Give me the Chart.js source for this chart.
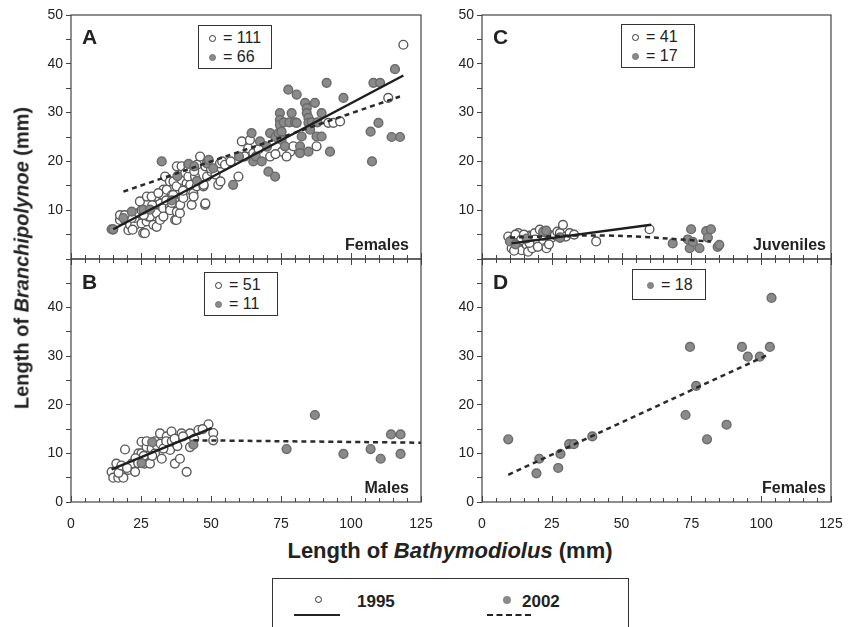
<!DOCTYPE html>
<html>
<head>
<meta charset="utf-8">
<script src="https://cdn.jsdelivr.net/npm/chart.js@4.4.1/dist/chart.umd.min.js"></script>
<style>
  body { margin: 0; background: #fff; }
  #wrap { position: relative; width: 851px; height: 627px; overflow: hidden; background: #fff;
          font-family: 'Liberation Sans', Arial, sans-serif; color: #222; }
  canvas { position: absolute; }
  .lbl { position: absolute; font-weight: bold; white-space: nowrap; }
  .letter { font-size: 21px; }
  .grp { font-size: 16px; }
  .box { position: absolute; border: 1px solid #333; background: #fff; font-size: 16px; line-height: 19px; padding: 2px 0; }
  .box div { padding-left: 10px; }
  .dot { display: inline-block; width: 7px; height: 7px; border-radius: 50%; margin-right: 7px; vertical-align: 1px; box-sizing: border-box; }
  .open { border: 1.2px solid #333; background: #fff; }
  .fill { background: #8a8a8a; border: 1.5px solid #777; }
  .axt { position: absolute; font-family: 'Liberation Sans Narrow', 'Arial Narrow', 'Liberation Sans', Arial, sans-serif;
         font-weight: bold; font-size: 21px; white-space: nowrap; }
</style>
</head>
<body>
<div id="wrap">
  <canvas id="cA"></canvas>
  <canvas id="cB"></canvas>
  <canvas id="cC"></canvas>
  <canvas id="cD"></canvas>

  <div class="lbl letter" style="left:82px;top:25px">A</div>
  <div class="lbl letter" style="left:493px;top:25px">C</div>
  <div class="lbl letter" style="left:82px;top:270px">B</div>
  <div class="lbl letter" style="left:493px;top:270px">D</div>

  <div class="lbl grp" style="right:442px;top:236px">Females</div>
  <div class="lbl grp" style="right:25px;top:236px">Juveniles</div>
  <div class="lbl grp" style="right:442px;top:479px">Males</div>
  <div class="lbl grp" style="right:25px;top:479px">Females</div>

  <div class="box" style="left:198px;top:25px;width:72px;">
    <div><span class="dot open"></span>= 111</div>
    <div><span class="dot fill"></span>= 66</div>
  </div>
  <div class="box" style="left:621px;top:24px;width:72px;">
    <div><span class="dot open"></span>= 41</div>
    <div><span class="dot fill"></span>= 17</div>
  </div>
  <div class="box" style="left:204px;top:272px;width:72px;">
    <div><span class="dot open"></span>= 51</div>
    <div><span class="dot fill"></span>= 11</div>
  </div>
  <div class="box" style="left:632px;top:269px;width:72px;padding:5px 0;">
    <div style="padding-left:14px"><span class="dot fill"></span>= 18</div>
  </div>

  <div class="axt" style="left:22px;top:258px;font-size:20px;transform:translate(-50%,-50%) rotate(-90deg)">Length of <i>Branchipolynoe</i> (mm)</div>
  <div class="axt" style="left:450px;top:551px;font-size:22px;transform:translate(-50%,-50%)">Length of <i>Bathymodiolus</i> (mm)</div>

  <div style="position:absolute;left:272px;top:578px;width:357px;height:60px;border:1px solid #333;box-sizing:border-box;">
    <span style="position:absolute;left:42px;top:17px;width:7px;height:7px;border:1.2px solid #333;border-radius:50%;box-sizing:border-box"></span>
    <span style="position:absolute;left:21px;top:35px;width:46px;border-top:2.5px solid #222"></span>
    <span class="axt" style="left:84px;top:13px;font-size:17px">1995</span>
    <span style="position:absolute;left:230px;top:17px;width:8px;height:8px;background:#8a8a8a;border-radius:50%"></span>
    <span style="position:absolute;left:214px;top:35px;width:44px;border-top:2.5px dashed #222"></span>
    <span class="axt" style="left:249px;top:13px;font-size:17px">2002</span>
  </div>
</div>

<script>
// panel A - females
const a1995 = [[15,6],[17.5,8],[19.3,8],[20.5,5.9],[21.1,7],[22.9,7],[22.8,8.4],[24,9.4],[25.2,7.3],[25.8,5.3],[26.4,5.3],[27,7.7],[27.6,8.7],[28.2,8.7],[29.4,7],[30,10],[30.6,6.6],[30.6,9.4],[31.8,8],[31.8,11.4],[32.9,10.4],[33,8.7],[33,14.2],[33,13.1],[33.6,16.9],[34.2,14.2],[35.3,10.7],[35.3,15.9],[35.4,10],[36,13.1],[36.5,13.1],[36.6,15.9],[37.2,8],[37.7,8],[37.7,14.9],[37.8,9.7],[37.8,19],[38.9,9.4],[39,11.1],[39.5,19],[39.6,12.8],[39.6,16.2],[40.1,12.5],[40.8,17.6],[41.3,15.5],[41.4,14.2],[41.9,16.9],[41.9,19.3],[42,18.6],[42.6,15.2],[43.1,11.1],[43.7,13.5],[43.8,12.8],[44.3,16.9],[44.9,14.9],[45,19.3],[46.1,21],[47.3,14.9],[47.4,15.2],[47.9,11.1],[48,19],[48,11.4],[48.6,16.9],[50.2,17.9],[51.6,17.3],[52.6,15.2],[53.2,19.6],[53.4,15.9],[54,20],[55,19.3],[59.8,16.9],[61,24.1],[63.3,22.7],[63.9,24.4],[65.1,21.7],[69.3,23.1],[71.1,21],[75.3,22],[78.3,22],[79.4,23.1],[87.7,23.1],[91.9,27.9],[93.7,27.9],[96.1,28.2],[113.3,33],[118.7,43.9],[17.5,9],[24.6,11.8],[27.1,12.8],[30.1,12.8],[21.7,8.4],[25.2,10],[28.8,12.8],[31.2,13.5],[19.2,9],[22,6],[26,9],[29,11],[34,12],[36,11.5],[40,14],[44,18],[50,18.5],[57,20],[62,21],[67,22.5],[73,21.5],[77,21]];
const a2002 = [[14.5,6.1],[15.1,6.1],[18.7,8.4],[21.7,9.7],[25.8,10.1],[28.2,10.1],[32.4,20],[36,12],[38,17],[42,19.5],[44,19],[45,16],[48.5,19.6],[49.2,20.3],[50.8,18.6],[57.9,15.2],[60,21],[64.5,25.8],[65.1,20],[66,21],[67.5,24.1],[68.1,20],[70,23],[70.5,17.9],[71.1,25.8],[72.9,16.9],[73,25],[74.1,25.8],[74.6,29.9],[74.6,28.5],[74.6,27.5],[75.2,26.1],[75.2,24.4],[76,28],[76.4,23.1],[77.6,34.7],[78,28],[78.8,29.9],[80,28],[80.6,33.7],[80.6,27.9],[81.8,23.1],[81.8,21.7],[82.4,25.1],[83.6,32],[84.2,30.9],[84.2,29.9],[84.8,28.9],[84.8,27.9],[85.4,26.5],[84.8,22],[86,28],[87.1,32],[87.7,25.1],[88,28],[89.5,25.1],[89.5,29.9],[91.3,36.1],[92.5,22],[97.3,33],[107,26.1],[107.5,20],[109.8,27.9],[108,36.1],[110.4,36.1],[114.5,25],[117.5,25],[115.7,38.9]];
const aFit1995 = [[15.1,6.1],[118.7,37.6]];
const aFit2002 = [[18.7,13.8],[117.5,33.3]];

// panel B - males
const b1995 = [[14.5,6.2],[15.1,5],[16.2,7.9],[16.9,5],[18.7,5],[19.3,10.8],[20.5,6.6],[21.7,7.9],[22.9,6.2],[24.1,10],[25.2,12.4],[25.2,10],[26.3,7.9],[27,11.3],[28.2,7.9],[28.8,11],[30,10],[30.6,11.7],[31.8,14.1],[32.4,8.9],[34.2,13.5],[35.4,10.7],[35.9,14.5],[37.1,7.9],[38.9,8.9],[39.5,14.1],[41.3,6.2],[42.5,14.1],[42.5,11.3],[45.5,14.8],[49.1,16],[50.8,14.2],[50.8,12.7],[17,6],[18,7.5],[20,7],[23,9],[24,8],[26,9.5],[27,12.5],[29,9.5],[30,12.5],[32,12],[33,11],[34,12.5],[36,12.5],[37,13],[38,11.5],[40,13.5],[44,13],[47,15]];
const b2002 = [[25.2,8],[29,12.3],[43.7,11.8],[77,10.9],[87.1,17.9],[97.3,9.9],[107,10.9],[110.6,8.9],[114.3,13.9],[117.7,13.9],[117.7,9.9]];
const bFit1995 = [[14.5,6.7],[50.2,15.2]];
const bFit2002 = [[43.7,12.7],[125,12.2]];

// panel C - juveniles
const c1995 = [[9.4,4.6],[10.6,2.2],[11,4],[12.4,3.6],[13,5.3],[13.5,2.8],[14.2,1.8],[14.8,4.2],[15.5,3.2],[16,2.9],[16.5,1.5],[17,4.8],[17.7,4.6],[18,2.2],[18.9,5.3],[19.5,3.6],[20.7,6],[21.3,3.9],[22,4.8],[23.1,2.2],[24,5],[25,4.4],[26.1,4.9],[27,5.6],[27.9,5.3],[29,7],[30,4.6],[31.4,5.3],[33,5],[40.9,3.6],[60,6.1],[12,5],[15,5],[19,4],[22.5,5.5],[11.5,1.7],[14,3.9],[17,3.3],[20,2.5],[24,3],[28,4.4]];
const c2002 = [[10,3.6],[12,3],[16,4.2],[21.9,5.6],[23,5.8],[27.9,4.4],[68.3,3.2],[73.7,4],[74.4,2.2],[74.9,6.1],[75.5,3.5],[77.9,2.2],[80.3,5.7],[80.9,4.4],[82,6.1],[84.4,2.5],[85,2.9]];
const cFit1995 = [[10.6,3.2],[60.6,7.0]];
const cFit2002 = [[10,4.4],[45,4.8],[82,3.6]];

// panel D - females 2002 only
const d2002 = [[9.4,12.9],[19.5,5.9],[20.5,8.9],[27.3,7],[28.1,9.9],[31.2,11.9],[32.9,11.9],[39.5,13.5],[72.9,17.9],[74.5,31.9],[76.7,23.9],[80.6,12.9],[87.6,15.9],[93.1,31.9],[95.2,29.9],[99.5,29.9],[103.1,31.9],[103.7,42]];
const dFit2002 = [[9.4,5.6],[101.7,30.1]];

const xTicks = [0, 25, 50, 75, 100, 125];

const FONT = "'Liberation Sans Narrow', 'Arial Narrow', 'Liberation Sans', Arial, sans-serif";
const PAD_L = 60, PAD_T = 12, PAD_R = 26, PAD_B = 30;

const toPts = arr => arr.map(p => ({x: p[0], y: p[1]}));

// box round the plot and the small ticks that point inward
const framePlugin = {
  id: 'frame',
  afterDraw(chart, args, opts) {
    const ctx = chart.ctx;
    const a = chart.chartArea;
    const xs = chart.scales.x;
    ctx.save();
    ctx.strokeStyle = '#444';
    ctx.lineWidth = 1.2;
    ctx.strokeRect(a.left, a.top, a.right - a.left, a.bottom - a.top);
    ctx.lineWidth = 1;
    ctx.beginPath();
    for (let v = 0; v <= 125; v += 5) {
      const px = Math.round(xs.getPixelForValue(v)) + 0.5;
      const len = v % 25 === 0 ? 6 : 4;
      ctx.moveTo(px, a.bottom);
      ctx.lineTo(px, a.bottom - len);
      if (opts.topTicks) {
        ctx.moveTo(px, a.top);
        ctx.lineTo(px, a.top + len);
      }
    }
    ctx.stroke();
    ctx.restore();
  }
};

function makePanel(id, box, open, filled, fitOpen, fitFilled, bottom) {
  const el = document.getElementById(id);
  el.style.left = (box.left - PAD_L) + 'px';
  el.style.top = (box.top - PAD_T) + 'px';
  el.width = box.w + PAD_L + PAD_R;
  el.height = box.h + PAD_T + PAD_B;

  const ds = [];
  if (fitOpen) ds.push({type: 'line', data: toPts(fitOpen), borderColor: '#1e1e1e', borderWidth: 2.5,
    pointRadius: 0, fill: false, order: 0});
  if (fitFilled) ds.push({type: 'line', data: toPts(fitFilled), borderColor: '#2a2a2a', borderWidth: 2.5,
    borderDash: [5, 4], pointRadius: 0, fill: false, tension: 0.4, order: 0});
  if (open) ds.push({data: toPts(open), pointRadius: 4.4, backgroundColor: '#fff', borderColor: '#5a5a5a',
    borderWidth: 1.4, order: 2});
  if (filled) ds.push({data: toPts(filled), pointRadius: 4.4, backgroundColor: '#8a8a8a', borderColor: '#6a6a6a',
    borderWidth: 1.4, order: 1});

  return new Chart(el, {
    type: 'scatter',
    data: {datasets: ds},
    options: {
      responsive: false,
      animation: false,
      events: [],
      layout: {padding: {top: PAD_T, right: PAD_R, left: 0, bottom: 0}},
      plugins: {legend: {display: false}, tooltip: {enabled: false}, frame: {topTicks: bottom}},
      scales: {
        x: {
          type: 'linear', min: 0, max: 125,
          afterFit: s => { s.height = PAD_B; },
          afterBuildTicks: s => { s.ticks = xTicks.map(v => ({value: v})); },
          grid: {display: false},
          border: {display: false},
          ticks: {display: bottom, color: '#222', padding: 6, maxRotation: 0,
                  font: {family: FONT, size: 14}}
        },
        y: {
          min: 0, max: 50,
          afterFit: s => { s.width = PAD_L; },
          grid: {drawOnChartArea: false, drawTicks: true, tickLength: 5, color: '#444'},
          border: {display: false},
          ticks: {stepSize: 5, color: '#222', padding: 3, font: {family: FONT, size: 14},
                  callback: v => (v % 10 !== 0 || (bottom && v === 50) || (!bottom && v === 0)) ? '' : v}
        }
      }
    },
    plugins: [framePlugin]
  });
}

makePanel('cA', {left: 71, top: 15, w: 350, h: 244}, a1995, a2002, aFit1995, aFit2002, false);
makePanel('cC', {left: 482, top: 15, w: 349, h: 244}, c1995, c2002, cFit1995, cFit2002, false);
makePanel('cB', {left: 71, top: 259, w: 350, h: 243}, b1995, b2002, bFit1995, bFit2002, true);
makePanel('cD', {left: 482, top: 259, w: 349, h: 243}, null, d2002, null, dFit2002, true);
</script>
</body>
</html>
